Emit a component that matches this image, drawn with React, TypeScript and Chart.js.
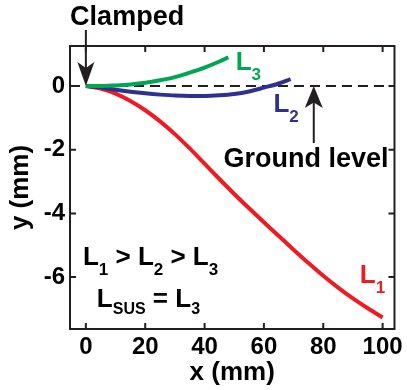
import React, { useEffect, useRef } from "react";
import { Chart, registerables } from "chart.js";

Chart.register(...registerables);

// Axis setup
const xTicks = [0, 20, 40, 60, 80, 100];
const yTicks = [-6, -4, -2, 0];
const X_MIN = -5.35;
const X_MAX = 104;
const Y_MIN = -7.63;
const Y_MAX = 1.257;

// L1 (red)
const xL1 = [0, 5, 10, 15, 20, 25, 30, 35, 40, 45, 50, 55, 60, 65, 70, 75, 80, 85, 90, 95, 100];
const yL1 = [0, -0.08, -0.24, -0.47, -0.76, -1.11, -1.51, -1.96, -2.44, -2.92, -3.39, -3.84, -4.28, -4.71, -5.14, -5.56, -5.96, -6.33, -6.67, -6.98, -7.27];

// L2 (blue)
const xL2 = [0, 5, 10, 15, 20, 25, 30, 35, 40, 45, 50, 55, 60, 65, 69];
const yL2 = [0, -0.05, -0.12, -0.18, -0.23, -0.27, -0.3, -0.31, -0.31, -0.29, -0.25, -0.17, -0.05, 0.08, 0.22];

// L3 (green)
const xL3 = [0, 5, 10, 15, 20, 25, 30, 35, 40, 45, 48];
const yL3 = [0, 0.0, 0.02, 0.05, 0.1, 0.18, 0.28, 0.42, 0.58, 0.77, 0.9];

// Ground level (dashed line)
const xGround = [X_MIN, X_MAX];
const yGround = [0, 0];

const RED = "#ed1c24";
const BLUE = "#2e3192";
const GREEN = "#00a651";
const BLACK = "#231f20";
const FONT = "'Liberation Sans', Arial, Helvetica, sans-serif";

const pts = (xs: number[], ys: number[]) => xs.map((v, i) => ({ x: v, y: ys[i] }));

function drawArrow(ctx: CanvasRenderingContext2D, x0: number, y0: number, x1: number, y1: number, hl: number, hw: number) {
  const ang = Math.atan2(y1 - y0, x1 - x0);
  const ux = Math.cos(ang), uy = Math.sin(ang);
  const px = -uy, py = ux;
  ctx.beginPath();
  ctx.moveTo(x0, y0);
  ctx.lineTo(x1 - ux * hl * 0.7, y1 - uy * hl * 0.7);
  ctx.lineWidth = 2;
  ctx.strokeStyle = BLACK;
  ctx.stroke();
  ctx.beginPath();
  ctx.moveTo(x1, y1);
  ctx.lineTo(x1 - ux * hl + px * hw / 2, y1 - uy * hl + py * hw / 2);
  ctx.lineTo(x1 - ux * hl * 0.75, y1 - uy * hl * 0.75);
  ctx.lineTo(x1 - ux * hl - px * hw / 2, y1 - uy * hl - py * hw / 2);
  ctx.closePath();
  ctx.fillStyle = BLACK;
  ctx.fill();
}

type Part = [string, "n" | "s"];
function drawRich(ctx: CanvasRenderingContext2D, x: number, y: number, parts: Part[], color: string, size: number, subSize: number, subDy: number) {
  ctx.fillStyle = color;
  ctx.textAlign = "left";
  ctx.textBaseline = "alphabetic";
  let cx = x;
  for (const [t, k] of parts) {
    ctx.font = `bold ${k === "n" ? size : subSize}px ${FONT}`;
    ctx.fillText(t, cx, k === "n" ? y : y + subDy);
    cx += ctx.measureText(t).width;
  }
}

const annotPlugin = {
  id: "annot",
  afterDraw(chart: any) {
    const { ctx, chartArea: ca, scales } = chart;
    const xs = scales.x, ys = scales.y;
    const X = (v: number) => xs.getPixelForValue(v);
    const Y = (v: number) => ys.getPixelForValue(v);
    ctx.save();
    // frame
    ctx.strokeStyle = BLACK;
    ctx.lineWidth = 2;
    ctx.strokeRect(ca.left, ca.top, ca.right - ca.left, ca.bottom - ca.top);
    // inward ticks on all four sides
    const TL = 6;
    ctx.beginPath();
    xTicks.forEach((v) => {
      const p = X(v);
      ctx.moveTo(p, ca.bottom); ctx.lineTo(p, ca.bottom - TL);
      ctx.moveTo(p, ca.top); ctx.lineTo(p, ca.top + TL);
    });
    yTicks.forEach((v) => {
      const p = Y(v);
      ctx.moveTo(ca.left, p); ctx.lineTo(ca.left + TL, p);
      ctx.moveTo(ca.right, p); ctx.lineTo(ca.right - TL, p);
    });
    ctx.stroke();

    // Clamped
    ctx.font = `bold 27px ${FONT}`;
    ctx.fillStyle = "#000";
    ctx.textAlign = "center";
    ctx.textBaseline = "alphabetic";
    ctx.fillText("Clamped", X(13.9), Y(1.92));
    drawArrow(ctx, X(0), Y(1.76), X(0), Y(0), 24, 17);

    // Ground level
    drawArrow(ctx, X(76.8), Y(-1.79), X(76.8), Y(0), 22, 18);
    ctx.font = `bold 27px ${FONT}`;
    ctx.fillStyle = "#000";
    ctx.textAlign = "center";
    ctx.fillText("Ground level", X(74.2), Y(-2.53));

    // curve labels
    drawRich(ctx, X(50.5), Y(0.5), [["L", "n"], ["3", "s"]], GREEN, 26, 17, 10);
    drawRich(ctx, X(63.2), Y(-0.82), [["L", "n"], ["2", "s"]], BLUE, 26, 17, 10);
    drawRich(ctx, X(92.3), Y(-6.19), [["L", "n"], ["1", "s"]], RED, 26, 17, 10);

    // relations
    drawRich(ctx, X(-1), Y(-5.62), [["L", "n"], ["1", "s"], [" > ", "n"], ["L", "n"], ["2", "s"], [" > ", "n"], ["L", "n"], ["3", "s"]], "#000", 26, 17, 10);
    drawRich(ctx, X(3.7), Y(-6.94), [["L", "n"], ["SUS", "s"], [" = ", "n"], ["L", "n"], ["3", "s"]], "#000", 26, 16, 7);
    ctx.restore();
  },
};

export default function App() {
  const ref = useRef<HTMLCanvasElement>(null);
  useEffect(() => {
    if (!ref.current) return;
    const tickFont = { family: FONT, size: 24, weight: "bold" as const };
    const titleFont = { family: FONT, size: 26, weight: "bold" as const };
    const chart = new Chart(ref.current, {
      type: "line",
      data: {
        datasets: [
          { label: "Ground", data: pts(xGround, yGround), borderColor: BLACK, borderWidth: 2, borderDash: [10, 6], pointRadius: 0, order: 4 },
          { label: "L1", data: pts(xL1, yL1), borderColor: RED, borderWidth: 4, pointRadius: 0, cubicInterpolationMode: "monotone", order: 3 },
          { label: "L2", data: pts(xL2, yL2), borderColor: BLUE, borderWidth: 4, pointRadius: 0, cubicInterpolationMode: "monotone", order: 2 },
          { label: "L3", data: pts(xL3, yL3), borderColor: GREEN, borderWidth: 4, pointRadius: 0, cubicInterpolationMode: "monotone", order: 1 },
        ],
      },
      options: {
        animation: false,
        responsive: false,
        layout: { padding: { top: 46, right: 10, left: 0, bottom: 0 } },
        plugins: { legend: { display: false }, tooltip: { enabled: false } },
        scales: {
          x: {
            type: "linear",
            min: X_MIN,
            max: X_MAX,
            afterBuildTicks: (s: any) => { s.ticks = xTicks.map((v) => ({ value: v })); },
            afterFit: (s: any) => { s.height = 61; },
            grid: { display: false, drawTicks: false },
            border: { display: false },
            ticks: { font: tickFont, color: "#000", padding: 4, maxRotation: 0, autoSkip: false },
            title: { display: true, text: "x (mm)", font: titleFont, color: "#000", padding: { top: 0, bottom: 2 } },
          },
          y: {
            type: "linear",
            min: Y_MIN,
            max: Y_MAX,
            afterBuildTicks: (s: any) => { s.ticks = yTicks.map((v) => ({ value: v })); },
            afterFit: (s: any) => { s.width = 70; },
            grid: { display: false, drawTicks: false },
            border: { display: false },
            ticks: { font: tickFont, color: "#000", padding: 5, autoSkip: false },
            title: { display: true, text: "y (mm)", font: titleFont, color: "#000", padding: { top: 5, bottom: 0 } },
          },
        },
      },
      plugins: [annotPlugin],
    });
    return () => chart.destroy();
  }, []);
  return (
    <div style={{ position: "fixed", left: 0, top: 0, width: 407, height: 390, background: "#fff" }}>
      <canvas ref={ref} width={407} height={390} />
    </div>
  );
}
